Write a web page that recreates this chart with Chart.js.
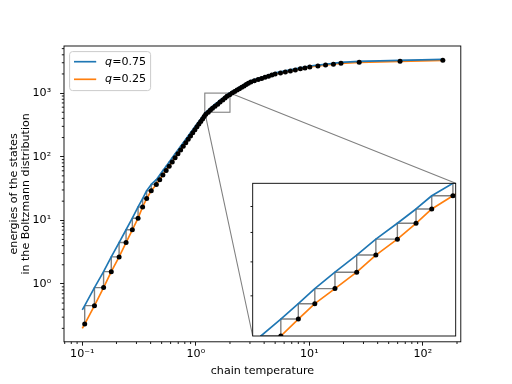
<!DOCTYPE html>
<html lang="en">
<head>
<meta charset="utf-8">
<title>Temperature ladder</title>
<style>
    body { margin: 0; background: #fff; }
    #wrap { position: relative; width: 512px; height: 384px; }
    #main { position: absolute; left: 0; top: 0; }
    #inset { position: absolute; left: 240px; top: 170px; }
</style>
</head>
<body>
<div id="wrap">
    <canvas id="main" width="512" height="384"></canvas>
    <canvas id="inset" width="230" height="180"></canvas>
</div>
<script src="https://cdn.jsdelivr.net/npm/chart.js@4.4.0/dist/chart.umd.min.js"></script>
<script>
// chain temperatures (first entry is only where the curves start)
const curveT = [0.1, 0.105, 0.128, 0.154, 0.180, 0.211, 0.243, 0.276, 0.310, 0.340, 0.369, 0.405, 0.449,
    0.481, 0.513, 0.548, 0.583, 0.620, 0.657, 0.696, 0.735, 0.775, 0.816, 0.857, 0.898, 0.940, 0.982,
    1.024, 1.065, 1.106, 1.147, 1.186, 1.225,
    1.288, 1.346, 1.403, 1.476, 1.559, 1.636, 1.727, 1.810, 1.883, 1.986,
    2.09, 2.20, 2.31, 2.42, 2.54, 2.66, 2.78, 2.90, 3.05, 3.28, 3.54, 3.80, 4.07, 4.37, 4.68, 5.00, 5.57, 6.15, 6.81, 7.53,
    8.34, 9.16, 10.1, 11.9, 13.9, 16.3, 19.0, 27.5, 63, 150];
// energy quantile q=0.25 (orange, dots sit on it)
const q25 = [0.2, 0.234, 0.455, 0.875, 1.56, 2.66, 4.47, 7.1, 10.8, 16.2, 22.0, 29.2, 36.6,
    43.6, 51.5, 60.6, 71.0, 82.8, 96.0, 110.9, 127.4, 145.7, 165.8, 187.7, 211.6, 237.3, 265.0,
    294.4, 325.5, 358.1, 392.2, 427.2, 463,
    500, 540, 579, 620, 668, 722, 776, 834, 890, 945,
    1000, 1057, 1114, 1175, 1236, 1297, 1361, 1426, 1493, 1560, 1629, 1698, 1770, 1845, 1919, 1995, 2075, 2153, 2234, 2317,
    2404, 2489, 2576, 2667, 2754, 2844, 2938, 3041, 3155, 3273];
// energy quantile q=0.75 (blue)
const q75 = [0.39, 0.455, 0.875, 1.56, 2.66, 4.47, 7.1, 10.8, 16.2, 22.0, 29.2, 36.6, 43.6,
    51.5, 60.6, 71.0, 82.8, 96.0, 110.9, 127.4, 145.7, 165.8, 187.7, 211.6, 237.3, 265.0, 294.4,
    325.5, 358.1, 392.2, 427.2, 463, 500,
    540, 579, 620, 668, 722, 776, 834, 890, 945, 1000,
    1057, 1114, 1175, 1236, 1297, 1361, 1426, 1493, 1560, 1629, 1698, 1770, 1845, 1919, 1995, 2075, 2153, 2234, 2317, 2404,
    2489, 2576, 2667, 2754, 2844, 2938, 3041, 3155, 3273, 3390];
const seriesNames = ["0.75", "0.25"];
const seriesColors = ["#1f77b4", "#ff7f0e"];
const xTickValues = [0.1, 1, 10, 100];
const yTickValues = [1, 10, 100, 1000];
const xRange = [0.069, 216];
const yRange = [0.123, 5500];
const zoomX = [1.2, 2.0];
const zoomY = [500, 1000];

const FONT = "'DejaVu Sans', sans-serif";
const AREA = { left: 64, top: 46, right: 460.8, bottom: 341.8 };
const INSET = { left: 252.7, top: 183.3, right: 455.7, bottom: 336 };
const INSET_CANVAS = { left: 240, top: 170, width: 230, height: 180 };

const SUP = { "-": "\u207b", "0": "\u2070", "1": "\u00b9", "2": "\u00b2", "3": "\u00b3" };
function powLabel(v) {
    const e = String(Math.round(Math.log10(v)));
    return "10" + e.split("").map(c => SUP[c]).join("");
}

function buildDatasets() {
    const stairs = [];
    const dots = [];
    for (let i = 1; i < curveT.length; i++) {
        stairs.push({ x: curveT[i], y: q25[i] }, { x: curveT[i], y: q75[i] });
        dots.push({ x: curveT[i], y: q25[i] });
    }
    const line = (vals, i) => ({
        label: "q=" + seriesNames[i],
        data: curveT.map((t, k) => ({ x: t, y: vals[k] })),
        showLine: true, borderColor: seriesColors[i], borderWidth: 1.67,
        pointRadius: 0, tension: 0, borderJoinStyle: "round", order: i + 1, clip: 0
    });
    return [
        line(q75, 0),
        line(q25, 1),
        { data: stairs, showLine: true, borderColor: "#7f7f7f", borderWidth: 1.4, pointRadius: 0, order: 3, clip: 0 },
        { data: dots, pointRadius: 2.5, pointBackgroundColor: "#000", pointBorderWidth: 0, order: 0, clip: 0 }
    ];
}

function minorValues(min, max) {
    const out = [];
    for (let k = -2; k <= 4; k++) {
        for (let m = 2; m <= 9; m++) {
            const v = m * Math.pow(10, k);
            if (v > min && v < max) out.push(v);
        }
    }
    return out;
}

// frame + minor ticks, used by both axes boxes
const framePlugin = {
    id: "frame",
    afterDraw(chart) {
        const { ctx, chartArea: a, scales } = chart;
        ctx.save();
        ctx.strokeStyle = "#000";
        ctx.lineWidth = 0.9;
        ctx.beginPath();
        minorValues(scales.x.min, scales.x.max).forEach(v => {
            const px = scales.x.getPixelForValue(v);
            ctx.moveTo(px, a.bottom); ctx.lineTo(px, a.bottom + 2.2);
        });
        minorValues(scales.y.min, scales.y.max).forEach(v => {
            const py = scales.y.getPixelForValue(v);
            ctx.moveTo(a.left, py); ctx.lineTo(a.left - 2.2, py);
        });
        ctx.stroke();
        ctx.strokeRect(a.left, a.top, a.right - a.left, a.bottom - a.top);
        ctx.restore();
    }
};

// zoom rectangle and the two lines to the inset corners
const zoomMarkPlugin = {
    id: "zoomMark",
    beforeDatasetsDraw(chart) {
        const { ctx, scales } = chart;
        const x0 = scales.x.getPixelForValue(zoomX[0]), x1 = scales.x.getPixelForValue(zoomX[1]);
        const y0 = scales.y.getPixelForValue(zoomY[0]), y1 = scales.y.getPixelForValue(zoomY[1]);
        ctx.save();
        ctx.strokeStyle = "#808080";
        ctx.lineWidth = 1.1;
        ctx.strokeRect(x0, y1, x1 - x0, y0 - y1);
        ctx.beginPath();
        ctx.moveTo(x1, y1); ctx.lineTo(INSET.right, INSET.top);
        ctx.moveTo(x0, y0); ctx.lineTo(INSET.left, INSET.bottom);
        ctx.stroke();
        ctx.restore();
    }
};

const legendPlugin = {
    id: "legendBox",
    afterDraw(chart) {
        const { ctx, chartArea: a } = chart;
        const x = a.left + 5.6, y = a.top + 5.6, w = 81, h = 39, r = 3;
        ctx.save();
        ctx.beginPath();
        ctx.roundRect(x, y, w, h, r);
        ctx.fillStyle = "rgba(255,255,255,0.8)";
        ctx.fill();
        ctx.strokeStyle = "#cccccc";
        ctx.lineWidth = 1;
        ctx.stroke();
        seriesNames.forEach((name, i) => {
            const cy = y + 10.1 + i * 17.6;
            ctx.strokeStyle = seriesColors[i];
            ctx.lineWidth = 1.67;
            ctx.beginPath();
            ctx.moveTo(x + 4.4, cy); ctx.lineTo(x + 26.6, cy);
            ctx.stroke();
            ctx.fillStyle = "#000";
            ctx.textBaseline = "middle";
            ctx.font = "italic 11.1px " + FONT;
            ctx.fillText("q", x + 35.5, cy);
            const qw = ctx.measureText("q").width;
            ctx.font = "11.1px " + FONT;
            ctx.fillText("=" + name, x + 35.5 + qw, cy);
        });
        ctx.restore();
    }
};

const tickFont = { family: FONT, size: 11.1 };

new Chart(document.getElementById("main"), {
    type: "scatter",
    data: { datasets: buildDatasets() },
    options: {
        responsive: false,
        animation: false,
        events: [],
        layout: { padding: { left: 0, top: AREA.top, right: 512 - AREA.right, bottom: 0 } },
        plugins: { legend: { display: false }, tooltip: { enabled: false } },
        scales: {
            x: {
                type: "logarithmic",
                min: xRange[0], max: xRange[1],
                afterBuildTicks: s => { s.ticks = xTickValues.map(v => ({ value: v })); },
                afterFit: s => { s.height = 384 - AREA.bottom; },
                ticks: { callback: v => powLabel(v), font: tickFont, color: "#000", padding: 2, maxRotation: 0 },
                grid: { drawOnChartArea: false, tickLength: 3.9, tickColor: "#000", tickWidth: 0.9 },
                border: { display: false },
                title: { display: true, text: "chain temperature", font: { family: FONT, size: 11.1, lineHeight: 1.2 }, color: "#000", padding: { top: 0, bottom: 6 } }
            },
            y: {
                type: "logarithmic",
                min: yRange[0], max: yRange[1],
                afterBuildTicks: s => { s.ticks = yTickValues.map(v => ({ value: v })); },
                afterFit: s => { s.width = AREA.left; },
                ticks: { callback: v => powLabel(v), font: tickFont, color: "#000", padding: 9 },
                grid: { drawOnChartArea: false, tickLength: 3.9, tickColor: "#000", tickWidth: 0.9 },
                border: { display: false },
                title: { display: true, text: ["energies of the states", "in the Boltzmann distribution"], font: { family: FONT, size: 11.1, lineHeight: 1.1 }, color: "#000", padding: { top: 8.2, bottom: 0 } }
            }
        }
    },
    plugins: [zoomMarkPlugin, framePlugin, legendPlugin]
});

const insetBg = {
    id: "insetBg",
    beforeDraw(chart) {
        const { ctx, chartArea: a } = chart;
        ctx.save();
        ctx.fillStyle = "#fff";
        ctx.fillRect(a.left, a.top, a.right - a.left, a.bottom - a.top);
        ctx.restore();
    }
};

new Chart(document.getElementById("inset"), {
    type: "scatter",
    data: { datasets: buildDatasets() },
    options: {
        responsive: false,
        animation: false,
        events: [],
        layout: {
            padding: {
                left: INSET.left - INSET_CANVAS.left,
                top: INSET.top - INSET_CANVAS.top,
                right: INSET_CANVAS.left + INSET_CANVAS.width - INSET.right,
                bottom: INSET_CANVAS.top + INSET_CANVAS.height - INSET.bottom
            }
        },
        plugins: { legend: { display: false }, tooltip: { enabled: false } },
        scales: {
            x: { type: "logarithmic", display: false, min: zoomX[0], max: zoomX[1] },
            y: { type: "logarithmic", display: false, min: zoomY[0], max: zoomY[1] }
        }
    },
    plugins: [insetBg, framePlugin]
});
</script>
</body>
</html>
